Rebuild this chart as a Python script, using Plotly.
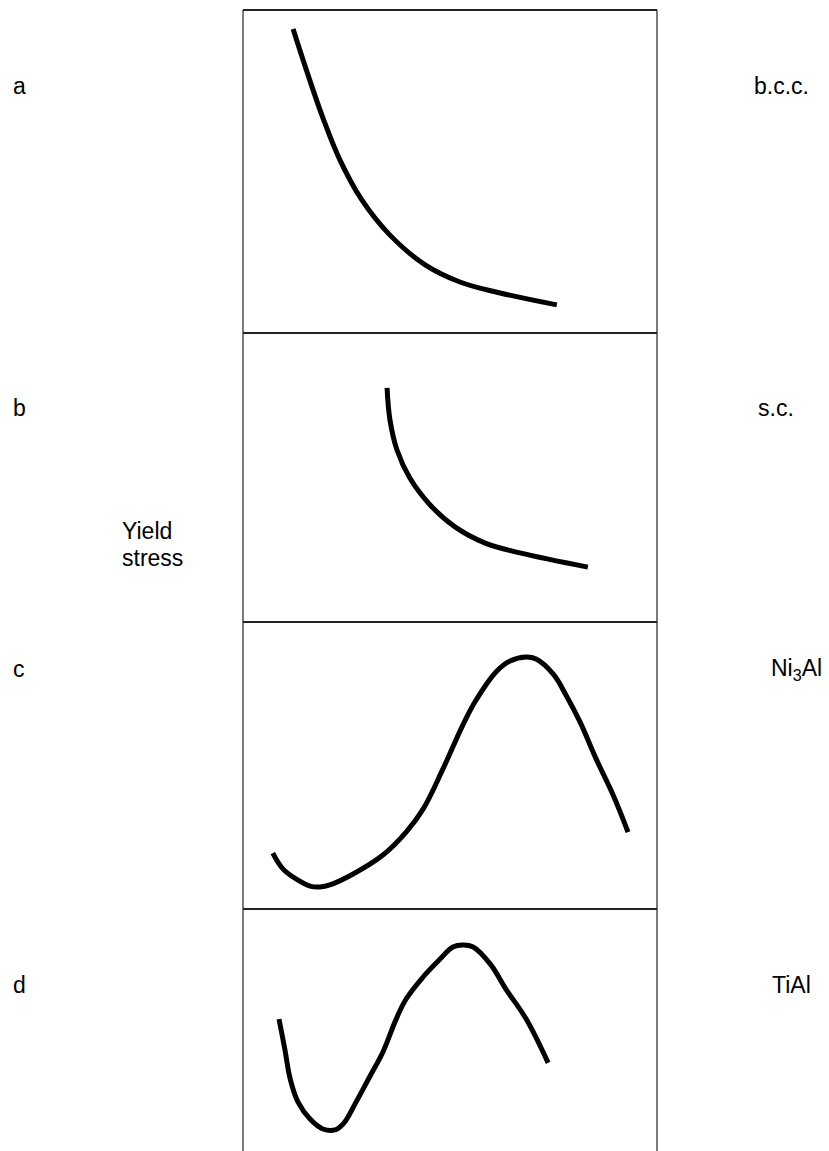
import plotly.graph_objects as go

W, H = 829, 1151

# ---- data (temperature, normalised 0-100 ; yield stress, normalised 0-100) ----
a_x = [12.1, 15.7, 19.3, 23.4, 28.7, 35.5, 44.0, 52.4, 62.1, 75.8]
a_y = [94.1, 79.9, 66.6, 53.6, 41.2, 30.3, 21.1, 15.8, 12.4, 8.7]

b_x = [34.8, 35.5, 37.2, 40.3, 45.2, 51.2, 58.5, 66.9, 83.3]
b_y = [81.0, 69.9, 59.5, 49.8, 40.5, 32.9, 27.3, 23.9, 19.0]

c_x = [7.2, 9.7, 12.8, 16.2, 18.6, 21.0, 26.6, 33.8, 39.4, 43.5, 48.3, 53.1,
       56.3, 61.1, 64.5, 68.4, 70.8, 74.9, 78.0, 81.4, 85.3, 89.4, 93.0]
c_y = [19.5, 13.9, 10.5, 8.0, 7.7, 8.4, 12.2, 18.8, 26.8, 34.8, 48.8, 64.1,
       72.8, 82.6, 86.4, 87.8, 87.1, 81.9, 74.6, 65.2, 52.3, 39.7, 26.8]

d_x = [8.7, 10.1, 11.4, 13.3, 16.2, 19.3, 22.2, 24.2, 27.3, 30.7, 33.8, 37.0,
       39.4, 43.5, 47.6, 50.7, 53.1, 55.6, 59.7, 63.5, 68.4, 73.7]
d_y = [54.5, 42.1, 29.8, 20.2, 13.2, 9.1, 8.7, 11.2, 20.2, 31.0, 40.9, 54.5,
       62.8, 71.9, 79.3, 84.3, 85.1, 84.3, 77.3, 66.9, 54.5, 36.4]

panel_letters = ["a", "b", "c", "d"]
materials = ["b.c.c.", "s.c.", "Ni<sub>3</sub>Al", "TiAl"]
y_label_lines = ["Yield", "stress"]

series = [(a_x, a_y), (b_x, b_y), (c_x, c_y), (d_x, d_y)]

# ---- layout geometry (pixels) ----
left_px, right_px = 243, 657
bounds_px = [(10, 333), (333, 622), (622, 909), (909, 1151)]
letter_y_px = [86, 408, 669, 985]
mat_pos_px = [(752, 86), (756, 408), (769, 669), (770, 985)]
ylab_y_px = [531, 558]

def px_x(p):
    return p / W

def px_y(p):
    return 1 - p / H

fig = go.Figure()
FONT = "Liberation Sans, Arial, sans-serif"
FS = 23

for i, (xs, ys) in enumerate(series):
    n = "" if i == 0 else str(i + 1)
    fig.add_trace(go.Scatter(
        x=xs, y=ys, mode="lines",
        line=dict(color="black", width=5, shape="spline", smoothing=1.1),
        xaxis="x" + n, yaxis="y" + n, showlegend=False, hoverinfo="skip"))
    top, bot = bounds_px[i]
    ax = dict(domain=[px_x(left_px), px_x(right_px)], range=[0, 100],
              showgrid=False, zeroline=False, showticklabels=False,
              showline=False, ticks="", fixedrange=True)
    ay = dict(domain=[max(0, px_y(bot)), px_y(top)], range=[0, 100],
              showgrid=False, zeroline=False, showticklabels=False,
              showline=False, ticks="", fixedrange=True)
    if i > 0:
        ax["anchor"] = "y" + n
        ay["anchor"] = "x" + n
    fig.update_layout(**{"xaxis" + n: ax, "yaxis" + n: ay})

shapes = []
# left / right frame lines (gray)
for xp in (left_px, right_px):
    shapes.append(dict(type="line", xref="paper", yref="paper",
                       x0=px_x(xp), x1=px_x(xp), y0=px_y(10), y1=0,
                       line=dict(color="#7a7a7a", width=2)))
# top and separators (dark)
for yp in (10, 333, 622, 909):
    shapes.append(dict(type="line", xref="paper", yref="paper",
                       x0=px_x(left_px), x1=px_x(right_px), y0=px_y(yp), y1=px_y(yp),
                       line=dict(color="#222222", width=2)))

annotations = []
for lab, yp in zip(panel_letters, letter_y_px):
    annotations.append(dict(text=lab, xref="paper", yref="paper",
                            x=px_x(11), y=px_y(yp), xanchor="left", yanchor="middle",
                            showarrow=False, font=dict(family=FONT, size=FS, color="black")))
for lab, (xp, yp) in zip(materials, mat_pos_px):
    annotations.append(dict(text=lab, xref="paper", yref="paper",
                            x=px_x(xp), y=px_y(yp), xanchor="left", yanchor="middle",
                            showarrow=False, font=dict(family=FONT, size=FS, color="black")))
for lab, yp in zip(y_label_lines, ylab_y_px):
    annotations.append(dict(text=lab, xref="paper", yref="paper",
                            x=px_x(120), y=px_y(yp), xanchor="left", yanchor="middle",
                            showarrow=False,
                            font=dict(family=FONT, size=FS, color="black")))

fig.update_layout(width=W, height=H, margin=dict(l=0, r=0, t=0, b=0),
                  paper_bgcolor="white", plot_bgcolor="white",
                  shapes=shapes, annotations=annotations, showlegend=False)

fig.write_html("out.html", config={"displayModeBar": False})
